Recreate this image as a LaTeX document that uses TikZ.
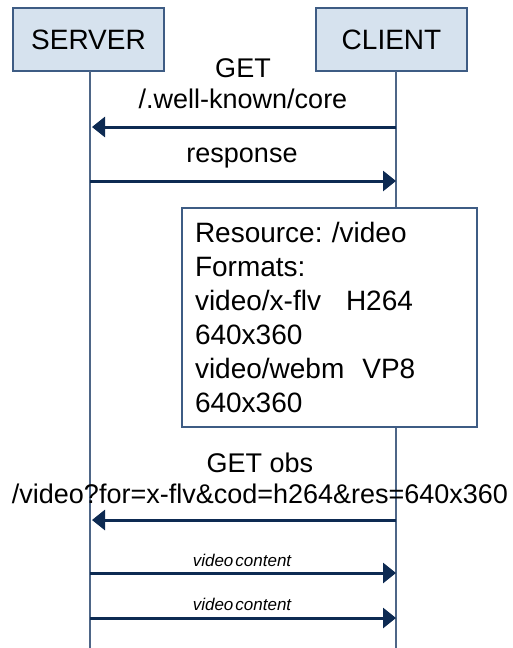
\documentclass[tikz,border=0pt]{standalone}
\usepackage{fontspec}
\setmainfont{Liberation Sans}
\usepackage{xcolor}
\usepackage{tikz}
\usetikzlibrary{arrows.meta,positioning,calc}
\frenchspacing

\definecolor{partyfill}{HTML}{D6E2EE}
\definecolor{partyline}{HTML}{3E5C84}
\definecolor{lifeline}{HTML}{4E6687}
\definecolor{msgcol}{HTML}{0D2A52}

\begin{document}
\begin{tikzpicture}[x=1pt, y=-1pt,
  party/.style={draw=partyline, line width=1.2pt, fill=partyfill, minimum width=151pt, minimum height=63pt, font=\fontsize{28}{34}\selectfont},
  life/.style={draw=lifeline, line width=1.3pt},
  msg/.style={-{Triangle[length=13pt, width=20pt]}, line width=3pt, color=msgcol},
  msglabel/.style={align=center, font=\fontsize{27}{31}\selectfont, inner sep=0pt},
  smalllabel/.style={font=\fontsize{17}{20}\selectfont\itshape, inner sep=0pt},
  infobox/.style={draw=partyline, line width=1.4pt, fill=white, minimum width=295pt, minimum height=219pt, text width=269pt, inner xsep=13pt, align=left, font=\fontsize{28}{34}\selectfont},
]
\useasboundingbox (0,0) rectangle (512,648);

\node[party] (server) at (88.5,39.5) {SERVER};
\node[party] (client) at (391.5,39.5) {CLIENT};

% lifelines
\coordinate (sTop) at (90,71);
\coordinate (sEnd) at (90,648);
\coordinate (cTop) at (396,71);
\coordinate (cEnd) at (396,648);
\draw[life] (sTop) -- (sEnd);
\draw[life] (cTop) -- (cEnd);

% discovery
\coordinate (c1) at (396,127);
\coordinate (s1) at (92,127);
\draw[msg] (c1) -- (s1);
\node[msglabel] (get) at (243,84) {GET\\/.well-known/core};

\coordinate (s2) at (90,181);
\coordinate (c2) at (396,181);
\draw[msg] (s2) -- (c2);
\node[msglabel] (resp) at (242,158) {response};

\node[infobox] (res) at (329.5,317.5) {Resource: /video\\Formats:\\video/x-flv\hspace{25pt}H264\\640x360\\video/webm\hspace{18pt}VP8\\640x360};

% observe
\coordinate (c3) at (396,520);
\coordinate (s3) at (92,520);
\draw[msg] (c3) -- (s3);
\node[msglabel] (obs) at (260,478) {GET obs\\/video?for=x-flv\&cod=h264\&res=640x360};

\coordinate (s4) at (90,573);
\coordinate (c4) at (396,573);
\draw[msg] (s4) -- (c4);
\node[smalllabel] (vc1) at (242,560) {video\hspace{2pt}content};

\coordinate (s5) at (90,618);
\coordinate (c5) at (396,618);
\draw[msg] (s5) -- (c5);
\node[smalllabel] (vc2) at (242,604) {video\hspace{2pt}content};

\end{tikzpicture}
\end{document}
